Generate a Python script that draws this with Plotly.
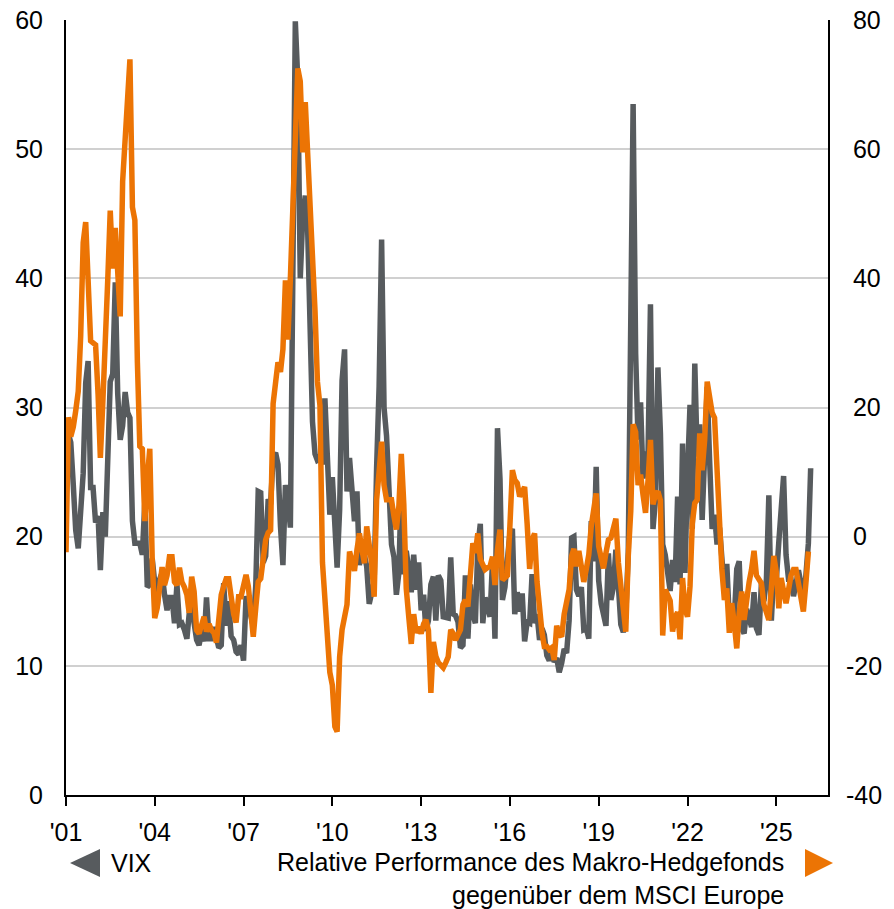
# ──────────────────────────────────────────────────────────────────────────────
import pandas as pd
import plotly.graph_objects as go
# ──────────────────────────────────────────────────────────────────────────────
# VIX, month-end (left axis)
vix_2001 = [28.6, 27.9, 27.3, 24.0, 20.5, 19.1, 22.5, 24.9, 31.9, 33.6, 23.8, 23.8]
vix_2002 = [21.1, 21.6, 17.4, 21.9, 20.0, 25.4, 32.0, 32.6, 39.7, 31.1, 27.5, 28.6]
vix_2003 = [31.2, 29.6, 29.2, 21.2, 19.5, 19.5, 19.5, 18.6, 22.7, 16.1, 16.3, 18.3]
vix_2004 = [16.6, 14.6, 16.7, 17.2, 15.5, 14.3, 15.3, 15.3, 13.3, 16.3, 13.2, 13.3]
vix_2005 = [12.8, 12.1, 14.0, 15.3, 13.3, 12.0, 11.6, 12.6, 11.9, 15.3, 12.1, 12.1]
vix_2006 = [13.0, 12.3, 11.4, 11.6, 16.4, 13.1, 15.0, 12.3, 12.0, 11.1, 10.9, 11.6]
vix_2007 = [10.4, 15.4, 14.6, 14.2, 13.1, 16.2, 23.5, 23.4, 18.0, 18.5, 22.9, 22.5]
vix_2008 = [26.2, 26.5, 25.6, 20.8, 17.8, 24.0, 22.9, 20.7, 39.4, 59.9, 55.3, 40.0]
vix_2009 = [44.8, 46.4, 44.1, 36.5, 28.9, 26.4, 25.9, 26.0, 25.6, 30.7, 24.5, 21.7]
vix_2010 = [24.6, 19.5, 17.6, 22.1, 32.1, 34.5, 23.5, 26.1, 23.7, 21.2, 23.5, 17.8]
vix_2011 = [19.5, 18.4, 17.7, 14.8, 15.5, 16.5, 25.3, 31.6, 43.0, 30.0, 27.8, 23.4]
vix_2012 = [19.4, 18.4, 15.5, 17.2, 24.1, 17.1, 18.9, 17.5, 15.7, 18.6, 15.9, 18.0]
vix_2013 = [14.3, 15.5, 12.7, 13.5, 16.3, 16.9, 13.5, 17.0, 16.6, 13.8, 13.7, 13.7]
vix_2014 = [18.4, 14.0, 13.9, 13.4, 11.4, 11.6, 17.0, 12.1, 16.3, 14.0, 13.3, 19.2]
vix_2015 = [21.0, 13.3, 15.3, 14.6, 13.8, 18.2, 12.1, 28.4, 24.5, 15.1, 16.1, 18.2]
vix_2016 = [20.2, 20.6, 14.0, 15.7, 14.2, 15.6, 11.9, 13.4, 13.3, 17.1, 13.3, 14.0]
vix_2017 = [12.0, 12.9, 12.4, 10.8, 10.4, 11.2, 10.3, 10.6, 9.5, 10.2, 11.3, 11.0]
vix_2018 = [13.5, 19.9, 20.0, 15.9, 15.4, 16.1, 12.8, 12.9, 12.1, 21.2, 18.1, 25.4]
vix_2019 = [16.6, 14.8, 13.7, 13.1, 18.7, 15.1, 16.1, 19.0, 16.2, 13.2, 12.6, 13.8]
vix_2020 = [18.8, 40.1, 53.5, 34.2, 27.5, 30.4, 24.5, 26.4, 26.4, 38.0, 20.6, 22.8]
vix_2021 = [33.1, 28.0, 19.4, 18.6, 16.8, 15.8, 18.2, 16.5, 23.1, 16.3, 27.2, 17.2]
vix_2022 = [24.8, 30.2, 20.6, 33.4, 26.2, 28.7, 21.3, 25.9, 31.6, 25.9, 20.6, 21.7]
vix_2023 = [19.4, 20.7, 18.7, 15.8, 17.9, 13.6, 13.6, 13.6, 17.5, 18.1, 12.9, 12.5]
vix_2024 = [14.4, 13.4, 13.0, 15.7, 12.9, 12.4, 16.4, 15.0, 16.7, 23.2, 13.5, 17.4]
vix_2025 = [16.6, 19.6, 22.3, 24.7, 18.6, 16.7, 16.7, 15.4, 16.3, 17.4, 16.4, 15.0]
vix_2026 = [17.0, 19.5, 25.3]

# relative performance macro hedge funds vs MSCI Europe, % (right axis)
perf_2001 = [-2.4, 18.5, 15.5, 17, 19.5, 22.5, 31, 45.5, 48.7, 38, 30.3, 30]
perf_2002 = [29.7, 22, 12.2, 21, 33, 40, 50.5, 41.5, 47.8, 40, 34.1, 55]
perf_2003 = [62, 68, 73.9, 51, 49, 27, 14, 13.6, 2.4, 9, 13.6, -3.6]
perf_2004 = [-12.6, -11, -7.5, -4.7, -7.5, -6, -3.1, -3.1, -7, -7.5, -4.8, -7]
perf_2005 = [-7.8, -9, -11.8, -6.2, -8.5, -14.5, -15, -13.5, -12.4, -14.7, -13.5, -14.5]
perf_2006 = [-14.9, -16.4, -12, -9, -7.7, -6.5, -6.5, -9.8, -12, -13.3, -9.3, -9.3]
perf_2007 = [-7.5, -5.9, -7.7, -11, -15.5, -11, -7, -6.5, -2.5, -0.5, 0.6, 1]
perf_2008 = [20.6, 24, 27, 25.5, 29, 39.7, 30.5, 40, 50, 62, 72.5, 70.5]
perf_2009 = [59.5, 67.3, 60, 52, 47, 35, 24, 20.3, -4, -9.5, -15, -21]
perf_2010 = [-23, -29.4, -30.2, -18.6, -14.4, -12.5, -10.5, -2.3, -3.5, -5.3, -2, 0.5]
perf_2011 = [-2, -4.1, 1.6, -1, -4.1, -9.3, 5.7, 10, 14.7, 8, 5.7, 5.7]
perf_2012 = [5.7, 3.1, 1.1, 4.7, 12.8, 5, -8, -12.4, -16.6, -12, -14.9, -14]
perf_2013 = [-15, -13.5, -12.9, -14.5, -24.2, -16.3, -18.5, -19.5, -20, -20.3, -19.5, -18.6]
perf_2014 = [-14.4, -15, -16, -15, -14.4, -10.5, -9.8, -10.8, -4.5, -1, -2.5, 0.5]
perf_2015 = [-3.5, -4.5, -5.1, -4.8, -4.6, -3.1, -7.5, -2, 1.1, -6.7, -6.3, -6]
perf_2016 = [1.6, 10.3, 8.8, 8.3, 6.2, 7, 7.7, 2, -5, -0.5, 0.5, -7]
perf_2017 = [-12, -14.9, -17, -17, -17.5, -17.2, -19.1, -13.8, -15, -15.5, -12, -9.8]
perf_2018 = [-8.2, -3, -1.9, -4.6, -2.2, -4.6, -7, -5, -2.8, 1.6, 4, 6.7]
perf_2019 = [-1.5, -3.8, -4.9, -2.5, -0.5, -0.2, 1.6, 2.8, -4, -7.5, -9.9, -14.7]
perf_2020 = [-3, 4, 17.4, 16.2, 8, 9.6, 6.5, 3.7, 8.7, 15, 5, 6.5]
perf_2021 = [7, 5.6, -15.3, -8.2, -9, -9.9, -14.7, -12.5, -11.7, -15.9, -6.4, -11.2]
perf_2022 = [-12.4, -7.7, 2, 5.2, 5.7, 16, 10.3, 15, 24, 21.5, 19.2, 18.4]
perf_2023 = [10.3, 1, -5, -9.8, -8, -14.9, -10.3, -13.4, -17.3, -11.9, -8.5, -12.9]
perf_2024 = [-9, -7, -5.1, -2.2, -6, -6.8, -7.2, -10.5, -12, -12.9, -8, -3]
perf_2025 = [-5.5, -11.1, -6.4, -8.5, -10.3, -8.2, -6, -5.1, -5.1, -7.2, -9.3, -11.6]
perf_2026 = [-7.2, -2.3]

tick_years = list(range(2001, 2026, 3))
tick_labels = ["'" + str(y)[2:] for y in tick_years]
right_ticks = [-40, -20, 0, 20, 40, 60, 80]
# ──────────────────────────────────────────────────────────────────────────────
vix = (vix_2001 + vix_2002 + vix_2003 + vix_2004 + vix_2005 + vix_2006 + vix_2007
       + vix_2008 + vix_2009 + vix_2010 + vix_2011 + vix_2012 + vix_2013 + vix_2014
       + vix_2015 + vix_2016 + vix_2017 + vix_2018 + vix_2019 + vix_2020 + vix_2021
       + vix_2022 + vix_2023 + vix_2024 + vix_2025 + vix_2026)
perf = (perf_2001 + perf_2002 + perf_2003 + perf_2004 + perf_2005 + perf_2006
        + perf_2007 + perf_2008 + perf_2009 + perf_2010 + perf_2011 + perf_2012
        + perf_2013 + perf_2014 + perf_2015 + perf_2016 + perf_2017 + perf_2018
        + perf_2019 + perf_2020 + perf_2021 + perf_2022 + perf_2023 + perf_2024
        + perf_2025 + perf_2026)

dates = pd.date_range("2001-01-01", periods=len(vix), freq="MS")

GREY = "#575b5e"
ORANGE = "#ec7404"
FONT = dict(family="Liberation Sans, Arial, sans-serif", size=25, color="black")

# negative labels hang their minus sign to the left, like the original
right_text = [str(v) if v < 0 else "\u00a0" + str(v) for v in right_ticks]

fig = go.Figure()
fig.add_trace(go.Scatter(x=dates, y=vix, mode="lines", yaxis="y",
                         line=dict(color=GREY, width=5.5), name="VIX"))
fig.add_trace(go.Scatter(x=dates[:len(perf)], y=perf, mode="lines", yaxis="y2",
                         line=dict(color=ORANGE, width=5.5), name="Relative Performance"))

fig.update_layout(
    width=894, height=909,
    margin=dict(l=66, r=66, t=20, b=114),
    paper_bgcolor="white", plot_bgcolor="white",
    showlegend=False,
    font=FONT,
    xaxis=dict(range=["2001-01-01", "2026-10-01"], automargin=False,
               tickvals=[f"{y}-01-01" for y in tick_years], ticktext=tick_labels,
               showline=True, linecolor="black", linewidth=2,
               ticks="outside", ticklen=9, tickwidth=2, tickcolor="black",
               ticklabelstandoff=5, ticklabeloverflow="allow",
               showgrid=False, zeroline=False, tickfont=FONT),
    yaxis=dict(range=[0, 60], dtick=10, automargin=False,
               showline=True, linecolor="black", linewidth=2,
               showgrid=True, gridcolor="#d0d0d0", gridwidth=1.5, zeroline=False,
               ticks="", ticklabelstandoff=16, ticklabeloverflow="allow", tickfont=FONT),
    yaxis2=dict(range=[-40, 80], overlaying="y", side="right", automargin=False,
                tickvals=right_ticks, ticktext=right_text,
                showline=True, linecolor="black", linewidth=2,
                showgrid=False, zeroline=False,
                ticks="", ticklabelstandoff=11, ticklabeloverflow="allow", tickfont=FONT),
)

# ─── custom legend ────────────────────────────────────────────────────────────
def px_x(x):
    return (x - 66) / 762

def px_y(y):
    return (795 - y) / 775

fig.add_shape(type="path", xref="paper", yref="paper",
              path=f"M {px_x(70)} {px_y(863)} L {px_x(100)} {px_y(849)} L {px_x(100)} {px_y(877)} Z",
              fillcolor=GREY, line=dict(width=0))
fig.add_shape(type="path", xref="paper", yref="paper",
              path=f"M {px_x(833)} {px_y(863)} L {px_x(805)} {px_y(849)} L {px_x(805)} {px_y(877)} Z",
              fillcolor=ORANGE, line=dict(width=0))
fig.add_annotation(x=px_x(109), y=px_y(863), xref="paper", yref="paper",
                   text="VIX", showarrow=False, xanchor="left", yanchor="middle", font=FONT)
fig.add_annotation(x=px_x(786), y=px_y(846), xref="paper", yref="paper",
                   text="Relative Performance des Makro-Hedgefonds<br>gegenüber dem MSCI Europe",
                   showarrow=False, xanchor="right", yanchor="top", align="right", font=FONT)

# drop the page's default body margin so the figure sits at the window's corner
fig.write_html("out.html", config={"displayModeBar": False},
               post_script="document.body.style.margin='0';document.body.style.overflow='hidden';")
